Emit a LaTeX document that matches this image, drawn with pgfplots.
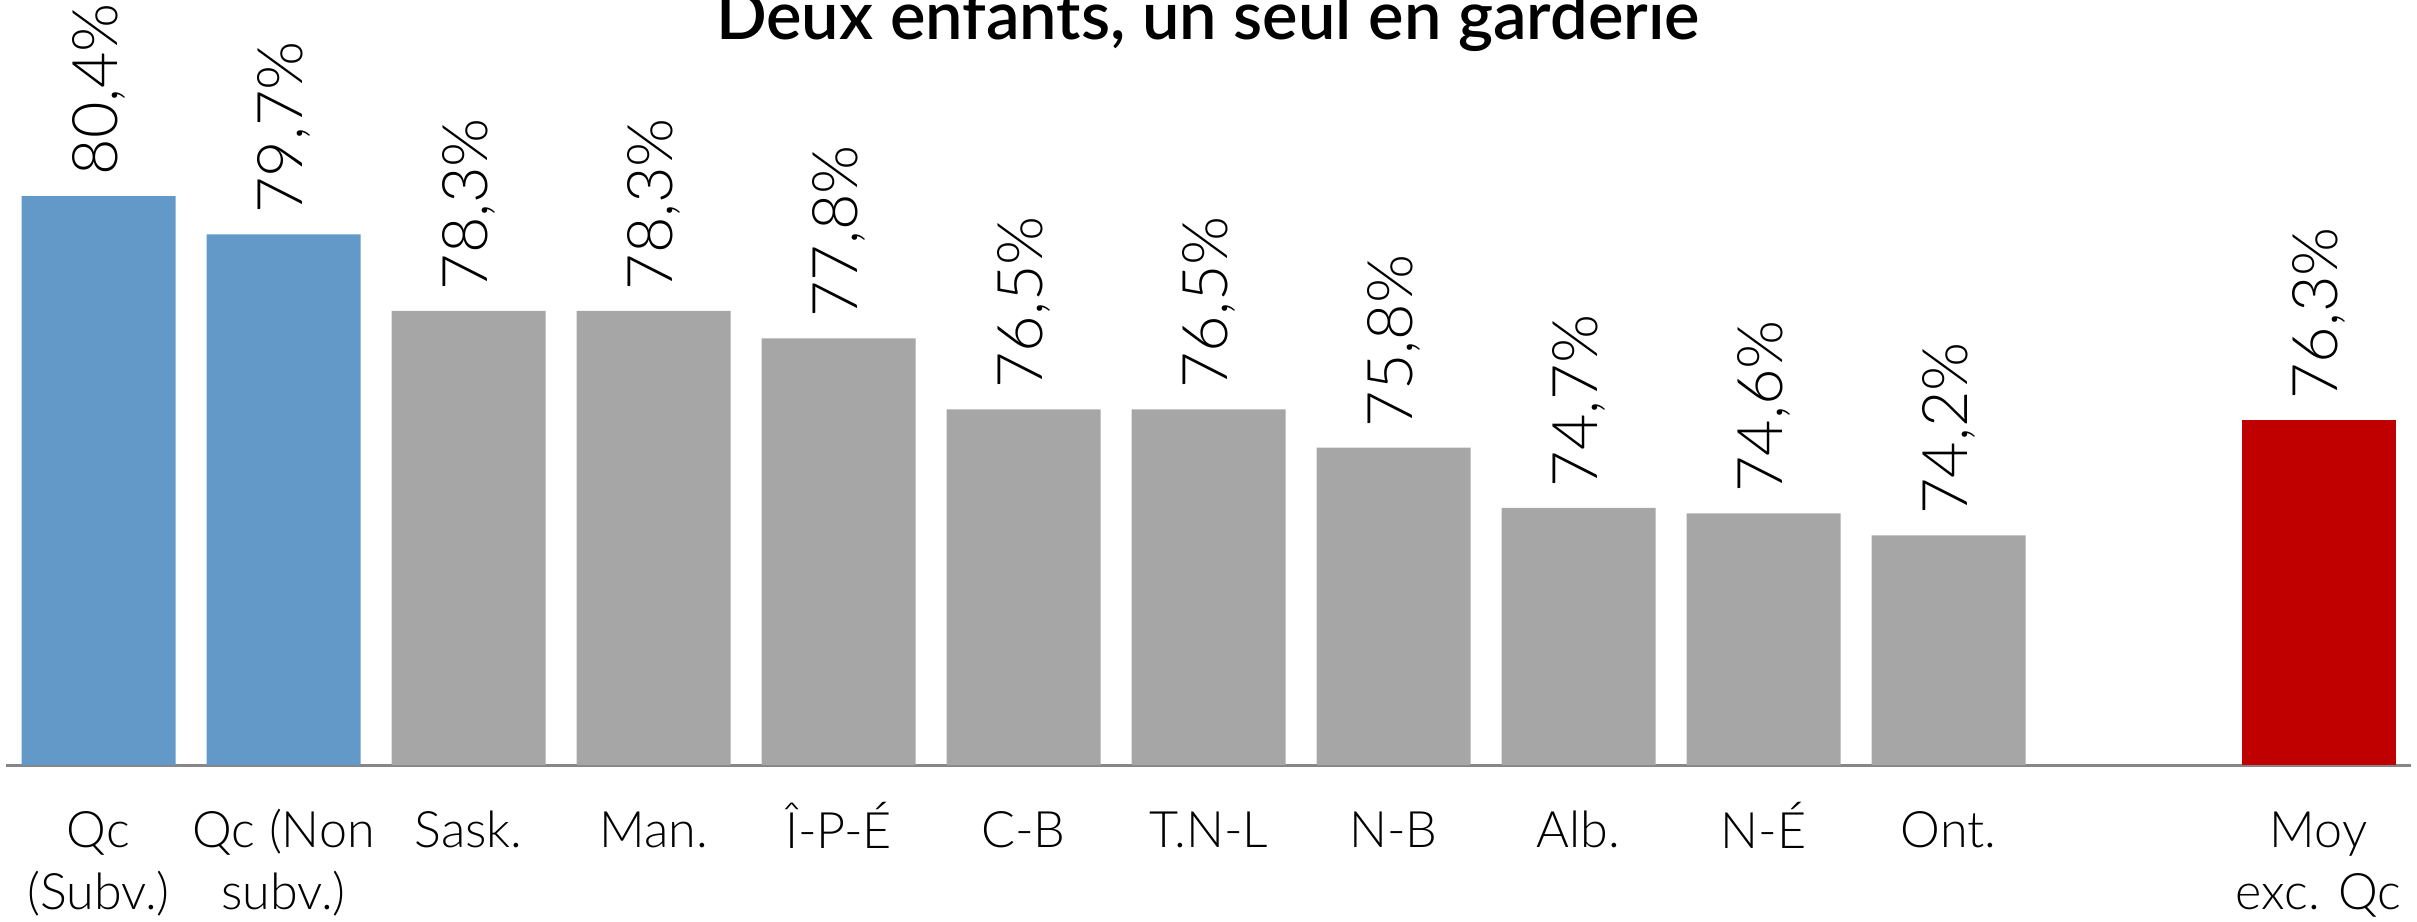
\documentclass[border=0pt]{standalone}
\usepackage{fontspec}
\setmainfont{Lato}[UprightFont=* Light]
\newfontfamily\titlefont{Lato}[UprightFont=* Semibold]
\usepackage{pgfplots}
\pgfplotsset{compat=1.18}
\definecolor{qcblue}{RGB}{99,153,200}
\definecolor{provgray}{RGB}{166,166,166}
\definecolor{moyred}{RGB}{192,0,0}
\definecolor{axisgray}{RGB}{134,134,134}
\newcommand{\ph}{\vphantom{Î}}
\begin{document}
\begin{tikzpicture}
\begin{axis}[
  at={(0,0)}, anchor=south west,
  scale only axis,
  width=24.05cm, height=7.111cm,
  xmin=-0.5, xmax=12.5, ymin=70, ymax=83,
  enlargelimits=false,
  clip=false,
  hide y axis,
  axis x line*=bottom,
  x axis line style={draw=axisgray, line width=0.03cm, -},
  major tick length=0pt,
  xtick={0,1,2,3,4,5,6,7,8,9,10,12},
  xticklabels={\ph Qc\\(Subv.), \ph Qc (Non\\subv.), \ph Sask., \ph Man., \ph Î-P-É, \ph C-B, \ph T.N-L, \ph N-B, \ph Alb., \ph N-É, \ph Ont., \ph Moy\\exc. Qc},
  xticklabel style={align=center, anchor=north, font=\fontsize{14.3}{17.6}\selectfont, yshift=-0.25cm},
  ybar, bar width=1.54cm, bar shift=0pt,
  /pgf/number format/assume math mode=true,
  nodes near coords={\pgfmathprintnumber[fixed, fixed zerofill, precision=1, use comma]{\pgfplotspointmeta}\%},
  every node near coord/.append style={rotate=90, anchor=west, inner xsep=0.2cm, inner ysep=0pt, font=\fontsize{17.9}{20}\selectfont, text=black},
]
\addplot[fill=qcblue, draw=none] coordinates {(0,80.4) (1,79.7)};
\addplot[fill=provgray, draw=none] coordinates {(2,78.3) (3,78.3) (4,77.8) (5,76.5) (6,76.5) (7,75.8) (8,74.7) (9,74.6) (10,74.2)};
\addplot[fill=moyred, draw=none] coordinates {(12,76.3)};
\end{axis}
\node[anchor=base, font=\titlefont\fontsize{19}{22}\selectfont] at (12.02,7.25) {Deux enfants, un seul en garderie};
\pgfresetboundingbox
\useasboundingbox (-0.06,-1.56) rectangle (24.11,7.65);
\end{tikzpicture}
\end{document}
